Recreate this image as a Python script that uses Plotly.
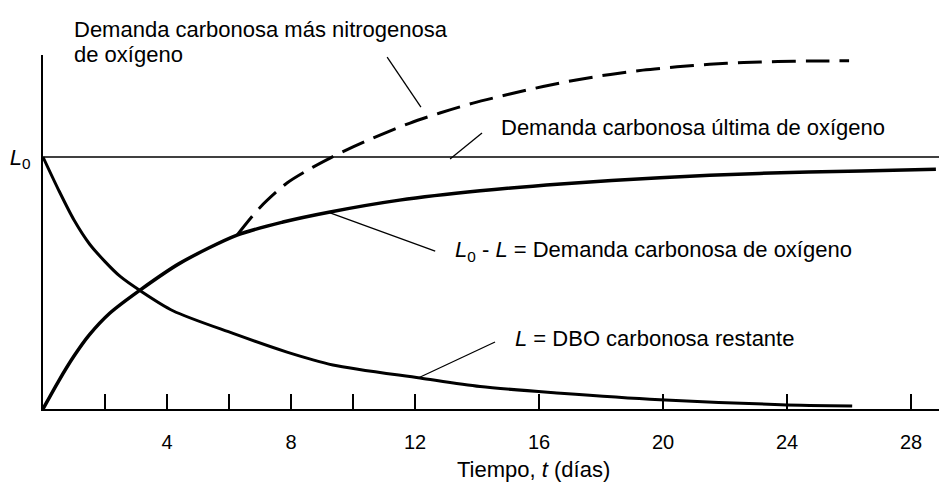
import plotly.graph_objects as go

# Tiempo (días) and fraction of the ultimate carbonaceous demand L0
t_restante = [0, 0.5, 1.0, 1.5, 2.0, 2.5, 3.13, 4.19, 6.13, 7.87, 9.35, 12.16, 14.1, 16.7, 19.9, 23.8, 26.1]
L_restante = [1.0, 0.87, 0.75, 0.655, 0.585, 0.525, 0.47, 0.39, 0.30, 0.226, 0.175, 0.123, 0.089, 0.063, 0.037, 0.017, 0.012]

t_carbonosa = [0, 0.5, 1.0, 1.5, 2.16, 3.13, 4.42, 6.26, 7.74, 9.26, 11.5, 14.1, 16.7, 19.9, 23.1, 26.4, 28.8]
L_carbonosa = [0, 0.11, 0.21, 0.295, 0.381, 0.472, 0.579, 0.690, 0.742, 0.782, 0.829, 0.866, 0.893, 0.918, 0.935, 0.945, 0.952]

t_nitrogenosa = [6.26, 7.0, 7.87, 8.71, 9.26, 10.0, 10.87, 11.84, 12.8, 13.87, 15.06, 16.13, 17.2, 18.3, 19.35, 20.45, 21.5, 22.6, 23.7, 24.7, 26.0]
L_nitrogenosa = [0.690, 0.80, 0.897, 0.960, 0.996, 1.040, 1.087, 1.135, 1.175, 1.214, 1.250, 1.280, 1.306, 1.328, 1.345, 1.358, 1.368, 1.375, 1.379, 1.381, 1.382]

t_ultima = [0, 28.9]
L_ultima = [1.0, 1.0]

tick_vals = [4, 8, 12, 16, 20, 24, 28]
tick_text = ["4", "8", "12", "16", "20", "24", "28"]
minor_tick_vals = [2, 6, 10]

FONT = "Liberation Sans, Arial, Helvetica, sans-serif"
INK = "#000000"

fig = go.Figure()

fig.add_trace(go.Scatter(x=t_ultima, y=L_ultima, mode="lines",
                         line=dict(color=INK, width=1.5), hoverinfo="skip"))
fig.add_trace(go.Scatter(x=t_restante, y=L_restante, mode="lines", line_shape="spline",
                         line=dict(color=INK, width=3, smoothing=0.8), hoverinfo="skip"))
fig.add_trace(go.Scatter(x=t_carbonosa, y=L_carbonosa, mode="lines", line_shape="spline",
                         line=dict(color=INK, width=3.5, smoothing=0.8), hoverinfo="skip"))
fig.add_trace(go.Scatter(x=t_nitrogenosa, y=L_nitrogenosa, mode="lines", line_shape="spline",
                         line=dict(color=INK, width=3, dash="24px,10px", smoothing=0.8),
                         hoverinfo="skip"))

# leader lines from each caption to its curve (days, fraction of L0)
leaders = [
    ((11.10, 1.397), (12.19, 1.198)),
    ((14.16, 1.095), (13.13, 0.992)),
    ((9.26, 0.778), (12.65, 0.627)),
    ((12.10, 0.123), (14.58, 0.266)),
]
for (x0, y0), (x1, y1) in leaders:
    fig.add_shape(type="line", xref="x", yref="y", x0=x0, y0=y0, x1=x1, y1=y1,
                  line=dict(color=INK, width=1.3))

captions = [
    ("Demanda carbonosa más nitrogenosa", 0.0324, 1.072),
    ("de oxígeno", 0.0324, 1.001),
    ("Demanda carbonosa última de oxígeno", 0.509, 0.794),
    ("<i>L</i><sub>0</sub> - <i>L</i> = Demanda carbonosa de oxígeno", 0.4576, 0.445),
    ("<i>L</i> = DBO carbonosa restante", 0.5246, 0.198),
]
for text, xp, yp in captions:
    fig.add_annotation(text=text, xref="paper", yref="paper", x=xp, y=yp,
                       xanchor="left", yanchor="middle", showarrow=False,
                       font=dict(family=FONT, size=22, color=INK))

fig.add_annotation(text="Tiempo, <i>t</i> (días)", xref="paper", yref="paper",
                   x=0.547, y=-0.172, xanchor="center", yanchor="middle",
                   showarrow=False, font=dict(family=FONT, size=22, color=INK))

fig.update_layout(
    width=939, height=489,
    margin=dict(l=43, r=0, t=55, b=80),
    paper_bgcolor="white", plot_bgcolor="white",
    showlegend=False,
    font=dict(family=FONT, color=INK),
)
fig.update_xaxes(
    range=[0, 28.9], showgrid=False, zeroline=False,
    showline=True, linecolor=INK, linewidth=2,
    tickmode="array", tickvals=tick_vals, ticktext=tick_text,
    ticks="inside", ticklen=15, tickwidth=1.5, tickcolor=INK,
    minor=dict(tickmode="array", tickvals=minor_tick_vals, ticks="inside",
               ticklen=15, tickwidth=1.5, tickcolor=INK, showgrid=False),
    ticklabelstandoff=14,
    tickfont=dict(family=FONT, size=20, color=INK),
)
fig.update_yaxes(
    range=[0, 1.405], showgrid=False, zeroline=False,
    showline=True, linecolor=INK, linewidth=2,
    tickmode="array", tickvals=[1], ticktext=["<i>L</i><sub>0</sub>"],
    ticks="", ticklabelstandoff=6,
    tickfont=dict(family=FONT, size=22, color=INK),
)

fig.write_html("out.html")
